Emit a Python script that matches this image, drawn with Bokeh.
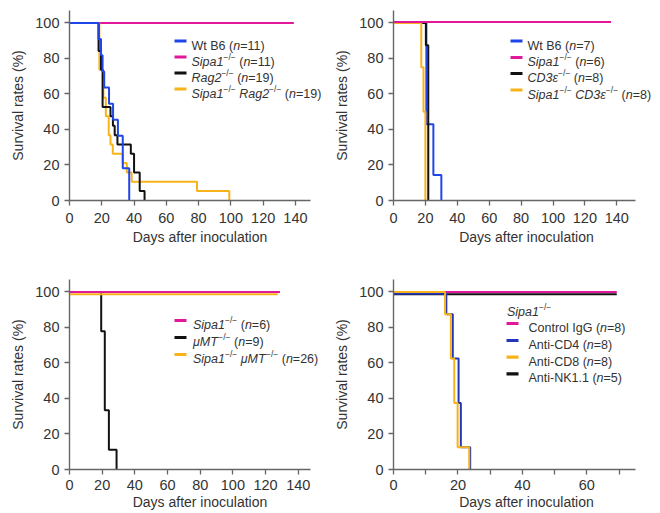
from bokeh.plotting import figure
from bokeh.models import Range1d, FixedTicker, Label, BoxAnnotation
from bokeh.layouts import column, row
from bokeh.embed import file_html
from bokeh.resources import INLINE

BLUE = "#1f46e6"
BLUE_D = "#2236b8"
MAGENTA = "#e2189c"
ORANGE = "#f8b31a"
BLACK = "#111111"
FONT = "Liberation Sans"

# ---------------- data ----------------
y_ticks = [0, 20, 40, 60, 80, 100]
x_ticks_long = [0, 20, 40, 60, 80, 100, 120, 140]
x_ticks_short = [0, 10, 20, 30, 40, 50, 60, 70]
x_labels_short = ["0", "", "20", "", "40", "", "60", ""]

# Panel A
a_wt_days = [0, 18, 19.5, 20.5, 21.5, 24.5, 27, 30, 33, 37]
a_wt_surv = [100, 90.9, 81.8, 72.7, 63.6, 54.5, 45.5, 36.4, 18.2, 0]
a_sipa_days = [0, 139]
a_sipa_surv = [100, 100]
a_rag_days = [0, 18, 19.5, 20.5, 25.4, 26.9, 28, 29.7, 38, 40, 43.5, 46.5]
a_rag_surv = [100, 84.2, 73.7, 52.6, 47.4, 42.1, 36.8, 31.6, 26.3, 15.8, 5.3, 0]
a_dko_days = [0, 18.5, 21, 22.5, 24.3, 25.4, 26.8, 33, 35.5, 38.5, 79, 99]
a_dko_surv = [100, 73.7, 57.9, 47.4, 36.8, 31.6, 26.3, 21.1, 15.8, 10.5, 5.3, 0]

# Panel B
b_wt_days = [0, 20.6, 25, 30]
b_wt_surv = [100, 42.9, 14.3, 0]
b_sipa_days = [0, 136.4]
b_sipa_surv = [100.5, 100.5]
b_cd3_days = [0, 20.3, 21.8]
b_cd3_surv = [100, 87.5, 0]
b_dko_days = [0, 17.4, 18.8, 20]
b_dko_surv = [100, 75, 50, 0]

# Panel C
c_sipa_days = [0, 128.8]
c_sipa_surv = [100, 100]
c_mmt_days = [0, 19.4, 21.6, 24.1, 28.8]
c_mmt_surv = [100, 77.8, 33.3, 11.1, 0]
c_dko_days = [0, 127.5]
c_dko_surv = [98.7, 98.7]

# Panel D
d_igg_days = [0, 69.3]
d_igg_surv = [100, 100]
d_cd4_days = [0, 16.4, 18.4, 20.2, 20.9, 23.8]
d_cd4_surv = [99, 87.5, 62.5, 37.5, 12.5, 0]
d_cd8_days = [0, 16.0, 17.8, 18.85, 19.9, 23.5]
d_cd8_surv = [100, 87.5, 62.5, 37.5, 12.5, 0]
d_nk_days = [0, 69.3]
d_nk_surv = [98.7, 98.7]

# legend texts: (text, style) r=regular i=italic s=superscript
a_entries = [
    [("Wt B6 (", "r"), ("n", "i"), ("=11)", "r")],
    [("Sipa1", "i"), ("−/−", "s"), (" ", "r"), ("(", "r"), ("n", "i"), ("=11)", "r")],
    [("Rag2", "i"), ("−/−", "s"), (" ", "r"), ("(", "r"), ("n", "i"), ("=19)", "r")],
    [("Sipa1", "i"), ("−/−", "s"), (" ", "r"), ("Rag2", "i"), ("−/−", "s"), (" ", "r"),
     ("(", "r"), ("n", "i"), ("=19)", "r")],
]
b_entries = [
    [("Wt B6 (", "r"), ("n", "i"), ("=7)", "r")],
    [("Sipa1", "i"), ("−/−", "s"), (" ", "r"), ("(", "r"), ("n", "i"), ("=6)", "r")],
    [("CD3ε", "i"), ("−/−", "s"), (" ", "r"), ("(", "r"), ("n", "i"), ("=8)", "r")],
    [("Sipa1", "i"), ("−/−", "s"), (" ", "r"), ("CD3ε", "i"), ("−/−", "s"), (" ", "r"),
     ("(", "r"), ("n", "i"), ("=8)", "r")],
]
c_entries = [
    [("Sipa1", "i"), ("−/−", "s"), (" ", "r"), ("(", "r"), ("n", "i"), ("=6)", "r")],
    [("μMT", "i"), ("−/−", "s"), (" ", "r"), ("(", "r"), ("n", "i"), ("=9)", "r")],
    [("Sipa1", "i"), ("−/−", "s"), (" ", "r"), ("μMT", "i"), ("−/−", "s"), (" ", "r"),
     ("(", "r"), ("n", "i"), ("=26)", "r")],
]
d_title = [("Sipa1", "i"), ("−/−", "s")]
d_entries = [
    [("Control IgG (", "r"), ("n", "i"), ("=8)", "r")],
    [("Anti-CD4 (", "r"), ("n", "i"), ("=8)", "r")],
    [("Anti-CD8 (", "r"), ("n", "i"), ("=8)", "r")],
    [("Anti-NK1.1 (", "r"), ("n", "i"), ("=5)", "r")],
]

# ---------------- helpers ----------------
W = {' ': 278, '(': 333, ')': 333, '=': 584, '-': 333, '.': 278, '/': 278, '−': 584,
     'A': 667, 'B': 667, 'C': 722, 'D': 722, 'G': 778, 'I': 278, 'K': 667, 'M': 833,
     'N': 722, 'R': 722, 'S': 667, 'T': 611, 'W': 944,
     'a': 556, 'c': 500, 'e': 556, 'g': 556, 'i': 222, 'l': 222, 'n': 556, 'o': 556,
     'p': 556, 'r': 333, 't': 278, 'u': 556, 'ε': 446, 'μ': 577}
for d in "0123456789":
    W[d] = 556


def tw(s, size):
    return sum(W.get(c, 556) for c in s) * size / 1000.0


FH = 190
Y_END = 107


def make_panel(x_end, x_bound, fw, lb, tb, bb, x_ticks, x_labels, tick_so, lab_so):
    p = figure(frame_width=fw, frame_height=FH, x_range=Range1d(0, x_end),
               y_range=Range1d(0, Y_END), min_border_left=lb, min_border_right=0,
               min_border_top=tb, min_border_bottom=bb, output_backend="svg",
               toolbar_location=None)
    p.outline_line_color = None
    p.xgrid.visible = False
    p.ygrid.visible = False
    p.background_fill_color = "white"
    p.border_fill_color = "white"
    for ax in (p.xaxis[0], p.yaxis[0]):
        ax.axis_line_color = "#666666"
        ax.axis_line_width = 1.4
        ax.major_tick_line_color = "#666666"
        ax.major_tick_line_width = 1.3
        ax.major_tick_out = 5
        ax.major_tick_in = 0
        ax.minor_tick_line_color = None
        ax.major_label_text_font = FONT
        ax.major_label_text_font_size = "14.5px"
        ax.major_label_text_color = "#333333"
        ax.axis_label_text_font = FONT
        ax.axis_label_text_font_size = "14px"
        ax.axis_label_text_font_style = "normal"
        ax.axis_label_text_color = "#333333"
    p.xaxis.bounds = (0, x_bound)
    p.xaxis.ticker = FixedTicker(ticks=x_ticks)
    p.xaxis.major_label_overrides = {t: l for t, l in zip(x_ticks, x_labels)}
    p.xaxis.axis_label = "Days after inoculation"
    p.xaxis.major_label_standoff = tick_so
    p.xaxis.axis_label_standoff = lab_so
    p.yaxis.ticker = FixedTicker(ticks=y_ticks)
    p.yaxis.axis_label = "Survival rates (%)"
    p.yaxis.axis_label_standoff = 6
    p.yaxis.major_label_standoff = 5
    return p


class Geo:
    def __init__(self, fl, ft, fw, xe):
        self.fl, self.ft, self.fw, self.xe = fl, ft, fw, xe

    def dx(self, X):
        return (X - self.fl) / self.fw * self.xe

    def dy(self, Y):
        return (self.ft + FH - Y) / FH * Y_END

    def ppy(self):
        return Y_END / FH


def add_rich(p, g, X, Yc, segs, size=12.5):
    base = g.dy(Yc + 4.5)
    off = 0.0
    for text, st in segs:
        fs = size * 0.68 if st == "s" else size
        lead = len(text) - len(text.lstrip(" "))
        off += tw(text[:lead], fs)
        body = text.strip(" ")
        if body:
            y = base + (5.0 * g.ppy() if st == "s" else 0)
            p.add_layout(Label(x=g.dx(X), y=y, x_offset=off, text=body,
                               text_font=FONT, text_font_size=f"{fs}px",
                               text_font_style="italic" if st == "i" else "normal",
                               text_color="#333333", text_baseline="alphabetic",
                               text_align="left"))
        off += tw(text[lead:], fs)


def add_legend(p, g, sx0, sx1, tx, rows, entries, colors):
    for yc, segs, col in zip(rows, entries, colors):
        p.add_layout(BoxAnnotation(left=g.dx(sx0), right=g.dx(sx1),
                                   bottom=g.dy(yc + 1.6), top=g.dy(yc - 1.6),
                                   fill_color=col, fill_alpha=1.0, line_color=None))
        add_rich(p, g, tx, yc, segs)


def km(p, xs, ys, color):
    p.step(xs, ys, mode="after", line_color=color, line_width=2)


long_labels = [str(t) for t in x_ticks_long]

# geometry (page pixels)
TOP1 = 10
TOP2 = 279

# ---------------- panels ----------------
# Panel A
ga = Geo(69, TOP1, 261, 261 / 1.614)
pa = make_panel(ga.xe, 149.3, 261, 69, 10, 47, x_ticks_long, long_labels, 7, 3)
km(pa, a_sipa_days, a_sipa_surv, MAGENTA)
km(pa, a_dko_days, a_dko_surv, ORANGE)
km(pa, a_rag_days, a_rag_surv, BLACK)
km(pa, a_wt_days, a_wt_surv, BLUE)
add_legend(pa, ga, 174, 186, 191, [40.5, 56.5, 72.5, 88.5], a_entries,
           [BLUE, MAGENTA, BLACK, ORANGE])

# Panel B
gb = Geo(393, TOP1, 266, 266 / 1.595)
pb = make_panel(gb.xe, 151.5, 266, 63, 10, 47, x_ticks_long, long_labels, 7, 3)
km(pb, b_wt_days, b_wt_surv, BLUE)
km(pb, b_cd3_days, b_cd3_surv, BLACK)
km(pb, b_dko_days, b_dko_surv, ORANGE)
km(pb, b_sipa_days, b_sipa_surv, MAGENTA)
add_legend(pb, gb, 510, 522, 527, [40.5, 57, 73, 89.5], b_entries,
           [BLUE, MAGENTA, BLACK, ORANGE])

# Panel C
gc = Geo(69, TOP2, 261, 261 / 1.634)
pc = make_panel(gc.xe, 147.5, 261, 69, 32, 43, x_ticks_long, long_labels, 5, 1)
km(pc, c_mmt_days, c_mmt_surv, BLACK)
km(pc, c_sipa_days, c_sipa_surv, MAGENTA)
km(pc, c_dko_days, c_dko_surv, ORANGE)
add_legend(pc, gc, 174, 186, 192.5, [320, 337, 354], c_entries,
           [MAGENTA, BLACK, ORANGE])

# Panel D
gd = Geo(393, TOP2, 266, 266 / 3.222)
pd_ = make_panel(gd.xe, 75, 266, 63, 32, 43, x_ticks_short, x_labels_short, 5, 1)
km(pd_, d_igg_days, d_igg_surv, MAGENTA)
km(pd_, d_nk_days, d_nk_surv, BLACK)
km(pd_, d_cd4_days, d_cd4_surv, BLUE_D)
km(pd_, d_cd8_days, d_cd8_surv, ORANGE)
add_rich(pd_, gd, 506.5, 306.5, d_title)
add_legend(pd_, gd, 506, 518, 528, [323, 340, 356.7, 373.3], d_entries,
           [MAGENTA, BLUE_D, ORANGE, BLACK])

layout = column(row(pa, pb), row(pc, pd_))
open("out.html", "w").write(file_html(layout, INLINE))
